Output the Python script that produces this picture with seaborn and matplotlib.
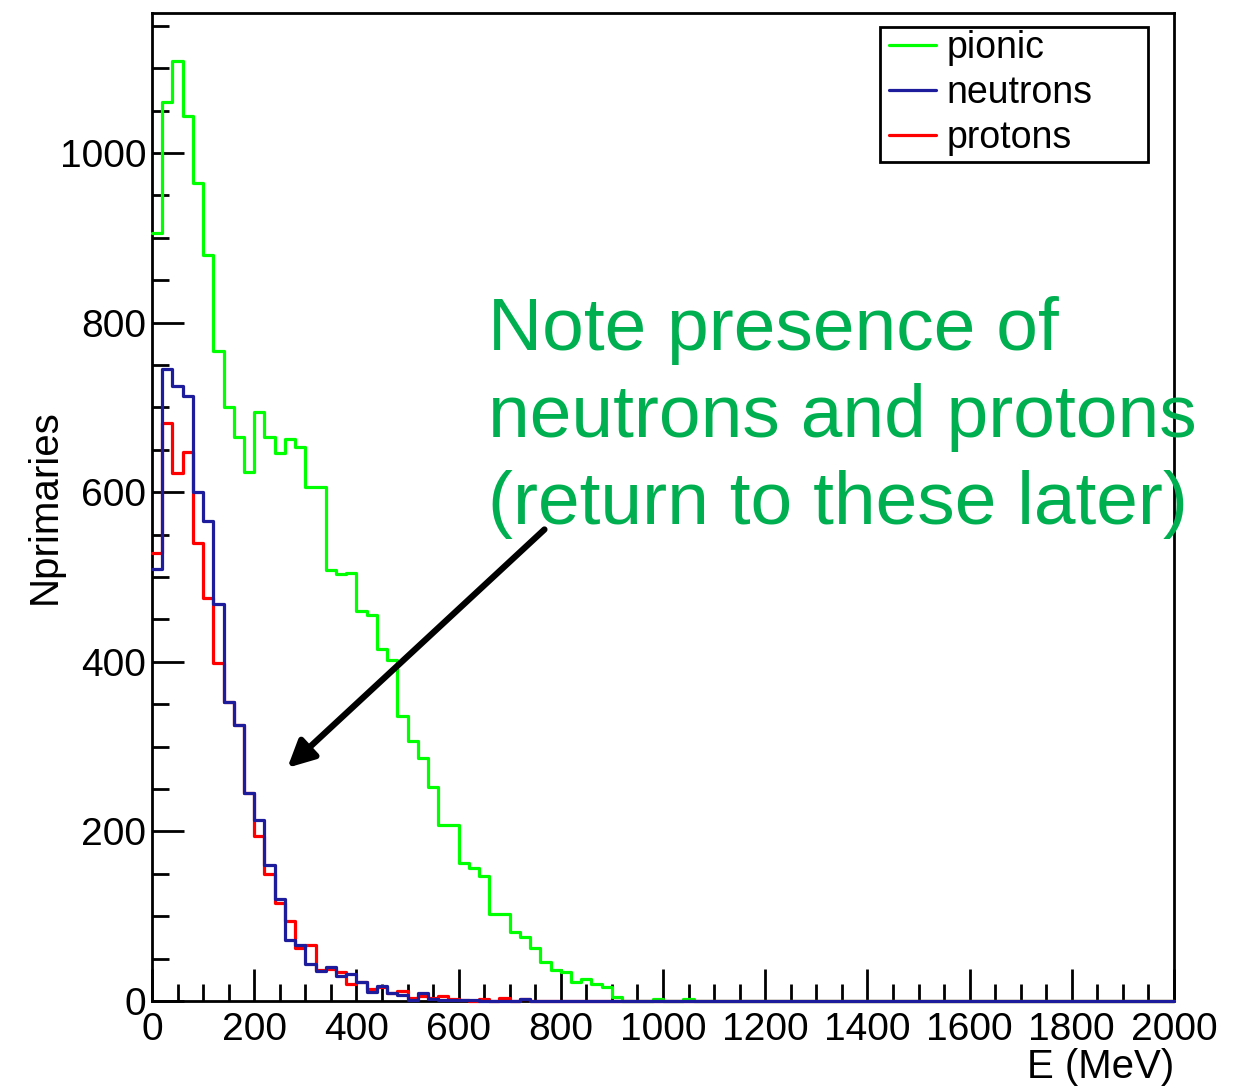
import numpy as np
import pandas as pd
import matplotlib
matplotlib.use("Agg")
import matplotlib.pyplot as plt
from matplotlib.ticker import MultipleLocator
from matplotlib.lines import Line2D
from matplotlib.patches import Rectangle
import seaborn as sns

# ---- data (20 MeV bins from 0 to 2000 MeV) ----
bin_width = 20
n_bins = 100
pionic = [905, 1060, 1108, 1043, 964, 880, 767, 700, 665, 624,
          694, 665, 646, 663, 653, 606, 606, 508, 503, 505,
          460, 455, 415, 402, 336, 307, 286, 252, 207, 207,
          163, 157, 147, 103, 103, 81, 76, 62, 46, 37,
          34, 22, 26, 20, 16, 5, 0, 0, 0, 2,
          0, 0, 2]
neutrons = [509, 745, 725, 713, 600, 566, 468, 352, 326, 245,
            213, 160, 120, 72, 66, 44, 35, 40, 30, 32,
            22, 11, 18, 10, 7, 1, 10, 2, 1, 1,
            1, 1, 0, 0, 0, 0, 2]
protons = [528, 681, 623, 647, 540, 475, 399, 352, 326, 245,
           194, 150, 116, 94, 63, 66, 37, 38, 34, 20,
           22, 14, 16, 10, 12, 4, 6, 3, 6, 2,
           1, 0, 2, 0, 3, 0, 2]
series_names = ["pionic", "neutrons", "protons"]
series_colors = {"pionic": "#00ff00", "neutrons": "#1c1c9c", "protons": "#ff0000"}
x_ticks = [0, 200, 400, 600, 800, 1000, 1200, 1400, 1600, 1800, 2000]
y_ticks = [0, 200, 400, 600, 800, 1000]
note_text = "Note presence of\nneutrons and protons\n(return to these later)"

def pad(v):
    return list(v) + [0] * (n_bins - len(v))

centers = np.arange(n_bins) * bin_width + bin_width / 2
frames = []
for name, vals in zip(series_names, [pionic, neutrons, protons]):
    frames.append(pd.DataFrame({"E": centers, "count": pad(vals), "sample": name}))
df = pd.concat(frames, ignore_index=True)

# ---- style ----
sns.set_theme(style="white", rc={"text.color": "black", "axes.labelcolor": "black",
                                 "xtick.color": "black", "ytick.color": "black"})
plt.rcParams["font.family"] = ["Liberation Sans", "DejaVu Sans"]

W, H = 1249, 1086
fig = plt.figure(figsize=(W / 100, H / 100), dpi=100)
ax = fig.add_axes([152 / W, 1 - 1001 / H, (1174 - 152) / W, (1001 - 13) / H])

# draw order: green, red, blue (blue on top)
for name in ["pionic", "protons", "neutrons"]:
    sub = df[df["sample"] == name]
    sns.histplot(data=sub, x="E", weights="count", binwidth=bin_width,
                 binrange=(0, bin_width * n_bins), element="step",
                 fill=False, color=series_colors[name], linewidth=2.3, ax=ax)
for ln in ax.lines:
    ln.set_clip_on(False)
    ln.set_zorder(3)
for p in ax.patches:
    p.set_clip_on(False)
    p.set_zorder(3)

ax.set_xlim(0, 2000)
ax.set_ylim(0, 1165)
ax.xaxis.set_minor_locator(MultipleLocator(50))
ax.yaxis.set_minor_locator(MultipleLocator(50))
ax.set_xticks(x_ticks)
ax.set_yticks(y_ticks)
ax.tick_params(which="major", direction="in", length=23, width=2, labelsize=28,
               bottom=True, left=True, top=False, right=False, color="black",
               labelcolor="black")
ax.tick_params(which="minor", direction="in", length=12, width=2,
               bottom=True, left=True, top=False, right=False, color="black")
ax.tick_params(axis="x", which="major", pad=8)
ax.tick_params(axis="y", which="major", pad=4)
for sp in ax.spines.values():
    sp.set_color("black")
    sp.set_linewidth(2)

ax.set_xlabel("E (MeV)", fontsize=29, loc="right", labelpad=0, color="black")
ax.set_ylabel("Nprimaries", fontsize=29, labelpad=-3, color="black")

# legend: explicit frame box + frameless legend inside it
x0 = (880 - 152) / 1022
x1 = (1148 - 152) / 1022
ytop = (1001 - 27) / 988
ybot = (1001 - 162) / 988
ax.add_patch(Rectangle((x0, ybot), x1 - x0, ytop - ybot, transform=ax.transAxes,
                       facecolor="white", edgecolor="black", linewidth=2, zorder=4))
leg_handles = [Line2D([], [], color=series_colors[n], lw=2.3) for n in series_names]
leg = ax.legend(leg_handles, series_names, loc="upper left",
                bbox_to_anchor=(x0, (1001 - 21) / 988),
                borderaxespad=0, fontsize=27, frameon=False, handlelength=1.25,
                handletextpad=0.28, labelspacing=0.24, borderpad=0.25)
leg.set_zorder(5)
for t in leg.get_texts():
    t.set_color("black")

fig.text(488 / W, 1 - 296 / H, note_text, color="#00b050", fontsize=54,
         ha="left", va="top", linespacing=1.33)
ax.annotate("", xy=(265, 275), xytext=(768, 556), xycoords="data",
            arrowprops=dict(arrowstyle="-|>", color="black", lw=4.5,
                            mutation_scale=40, shrinkA=0, shrinkB=0))

fig.savefig("out.png", dpi=100)
